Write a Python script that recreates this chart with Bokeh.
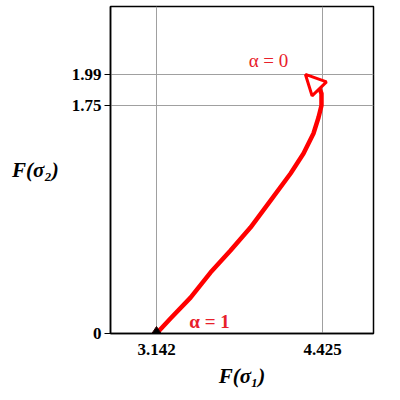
from bokeh.plotting import figure
from bokeh.models import Label, Arrow, NormalHead, FixedTicker, Range1d
from bokeh.embed import file_html
from bokeh.resources import INLINE

# data
f1 = [3.142, 3.250, 3.405, 3.559, 3.714, 3.868, 4.023, 4.178, 4.278, 4.355, 4.394, 4.417, 4.417, 4.405]
f2 = [0.0, 0.115, 0.276, 0.468, 0.637, 0.814, 1.021, 1.229, 1.382, 1.536, 1.659, 1.751, 1.843, 1.874]
tip_f1 = 4.293
tip_f2 = 1.99
start_f1 = [3.142]
start_f2 = [0.0]
x_ticks = [3.142, 4.425]
y_ticks = [0, 1.75, 1.99]
x_tick_labels = {3.142: "3.142", 4.425: "4.425"}
y_tick_labels = {0: "0", 1.75: "1.75", 1.99: "1.99"}
x_title = "F(σ₁)"
y_title = "F(σ₂)"

RED = "#ff0000"
TXT_RED = "#e8202a"
SERIF = "Liberation Serif"

X0, X1 = 2.7865, 4.819
Y0, Y1 = 0.0, 2.512

p = figure(width=392, height=392, output_backend="svg", toolbar_location=None,
           x_range=Range1d(X0, X1), y_range=Range1d(Y0, Y1),
           min_border_left=110, min_border_right=19, min_border_top=6, min_border_bottom=59)
p.background_fill_color = "white"
p.border_fill_color = "white"
p.outline_line_color = "black"
p.outline_line_width = 1.5

for ax in (p.xaxis[0], p.yaxis[0]):
    ax.axis_line_color = "black"
    ax.axis_line_width = 1.5
    ax.minor_tick_line_color = None
    ax.major_label_text_font = SERIF
    ax.major_label_text_font_style = "bold"
    ax.major_label_text_font_size = "17px"
    ax.major_label_text_color = "black"
    ax.axis_label_text_font = SERIF
    ax.axis_label_text_font_style = "bold italic"
    ax.axis_label_text_font_size = "21px"
    ax.axis_label_text_color = "black"

p.xaxis.ticker = FixedTicker(ticks=x_ticks)
p.yaxis.ticker = FixedTicker(ticks=y_ticks)
p.xaxis.major_label_overrides = x_tick_labels
p.yaxis.major_label_overrides = y_tick_labels
p.xaxis.major_tick_out = 0
p.xaxis.major_tick_in = 0
p.xaxis.major_label_standoff = 10
p.yaxis.major_tick_out = 6
p.yaxis.major_tick_in = 0
p.yaxis.major_tick_line_color = "black"
p.yaxis.major_label_standoff = 3
p.xaxis.axis_label = x_title
p.yaxis.axis_label = y_title
p.xaxis.axis_label_standoff = 6
p.yaxis.axis_label_standoff = 10
p.yaxis.axis_label_orientation = "horizontal"

p.xgrid.ticker = FixedTicker(ticks=x_ticks)
p.ygrid.ticker = FixedTicker(ticks=y_ticks)
p.grid.grid_line_color = "#a0a0a0"
p.grid.grid_line_width = 1

p.line(f1, f2, line_color=RED, line_width=4.5, line_cap="round", line_join="round")
p.add_layout(Arrow(x_start=f1[-1], y_start=f2[-1], x_end=tip_f1, y_end=tip_f2,
                   line_color=RED, line_width=3,
                   end=NormalHead(size=20, fill_color="white", line_color=RED, line_width=3)))
p.scatter(start_f1, start_f2, marker="diamond", size=14, fill_color="black", line_color="#300000")

# helpers mapping picture pixel positions to data space (for text placement only)
FL, FR, FT, FB = 110, 373, 6, 333
def dx(px):
    return X0 + (px - FL) / (FR - FL) * (X1 - X0)
def dy(py):
    return Y0 + (FB - py) / (FB - FT) * (Y1 - Y0)

def lab(px, py, text, size, style="normal", color="black"):
    p.add_layout(Label(x=dx(px), y=dy(py), text=text, text_font=SERIF,
                       text_font_size=size, text_font_style=style, text_color=color,
                       text_align="center", text_baseline="middle"))

lab(268, 60, "α = 0", "19px", "normal", TXT_RED)
lab(209, 321, "α = 1", "19px", "bold", TXT_RED)

open("out.html", "w").write(file_html(p, INLINE))
